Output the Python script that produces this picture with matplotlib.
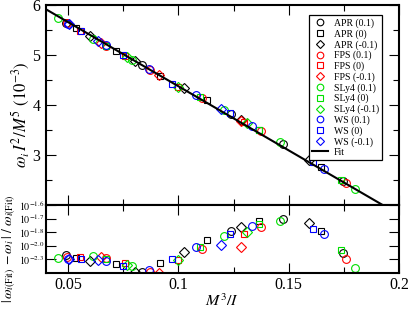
import matplotlib
matplotlib.use("Agg")
import matplotlib.pyplot as plt
from matplotlib.ticker import MultipleLocator, FixedLocator
import numpy as np

plt.rcParams['font.family'] = ['Liberation Serif', 'DejaVu Serif']
plt.rcParams['mathtext.fontset'] = 'stix'

# ---- data ----
fit_coef = [6.94, -25.65]          # intercept, slope of the linear fit
fit_x_range = [0.04, 0.2]

# APR
apr_p1_x = [0.049, 0.0835, 0.1239, 0.1474, 0.1744]
apr_p1_y = [5.645, 4.796, 3.820, 3.222, 2.485]
apr_p1_r = [0.0066, 0.0005, 0.0155, 0.0198, 0.0072]
apr_0_x = [0.0536, 0.0718, 0.0915, 0.113, 0.1365, 0.1645]
apr_0_y = [5.535, 5.081, 4.576, 4.091, 3.505, 2.763]
apr_0_r = [0.0054, 0.0033, 0.0038, 0.0121, 0.0191, 0.0155]
apr_m1_x = [0.06, 0.0805, 0.1024, 0.1285, 0.1592]
apr_m1_y = [5.377, 4.873, 4.347, 3.706, 2.909]
apr_m1_r = [0.0044, 0.0005, 0.0078, 0.017, 0.0183]
# FPS
fps_p1_x = [0.0495, 0.0673, 0.0873, 0.1105, 0.1373, 0.1762]
fps_p1_y = [5.636, 5.185, 4.700, 4.142, 3.476, 2.433]
fps_p1_r = [0.006, 0.0056, 0.0002, 0.0087, 0.017, 0.0052]
fps_0_x = [0.0555, 0.0759, 0.1, 0.1297]
fps_0_y = [5.483, 4.974, 4.354, 3.664]
fps_0_r = [0.006, 0.0038, 0.0048, 0.0142]
fps_m1_x = [0.065, 0.0914, 0.1286]
fps_m1_y = [5.241, 4.596, 3.676]
fps_m1_r = [0.006, 0.0001, 0.0097]
# SLy4
sly_p1_x = [0.0456, 0.0615, 0.079, 0.1209, 0.146, 0.18]
sly_p1_y = [5.739, 5.329, 4.901, 3.892, 3.256, 2.327]
sly_p1_r = [0.0054, 0.0063, 0.0026, 0.0137, 0.0191, 0.0017]
sly_0_x = [0.0673, 0.11, 0.1365, 0.1736]
sly_0_y = [5.188, 4.159, 3.501, 2.508]
sly_0_r = [0.005, 0.0097, 0.018, 0.0085]
sly_m1_x = [0.0765, 0.1, 0.131]
sly_m1_y = [4.963, 4.354, 3.634]
sly_m1_r = [0.003, 0.0048, 0.0152]
# WS
ws_p1_x = [0.0501, 0.0673, 0.0865, 0.1082, 0.1335, 0.1658]
ws_p1_y = [5.626, 5.191, 4.716, 4.205, 3.577, 2.726]
ws_p1_r = [0.0052, 0.0045, 0.0011, 0.0095, 0.0174, 0.0144]
ws_0_x = [0.0558, 0.0749, 0.097, 0.1233, 0.1608]
ws_0_y = [5.481, 5.006, 4.430, 3.831, 2.862]
ws_0_r = [0.005, 0.0026, 0.005, 0.0142, 0.0162]
ws_m1_x = [0.0505, 0.0635, 0.1195]
ws_m1_y = [5.617, 5.286, 3.915]
ws_m1_r = [0.005, 0.0048, 0.0103]

series = [
    ("APR (0.1)", apr_p1_x, apr_p1_y, apr_p1_r, 'black', 'o'),
    ("APR (0)", apr_0_x, apr_0_y, apr_0_r, 'black', 's'),
    ("APR (-0.1)", apr_m1_x, apr_m1_y, apr_m1_r, 'black', 'D'),
    ("FPS (0.1)", fps_p1_x, fps_p1_y, fps_p1_r, 'red', 'o'),
    ("FPS (0)", fps_0_x, fps_0_y, fps_0_r, 'red', 's'),
    ("FPS (-0.1)", fps_m1_x, fps_m1_y, fps_m1_r, 'red', 'D'),
    ("SLy4 (0.1)", sly_p1_x, sly_p1_y, sly_p1_r, '#00e000', 'o'),
    ("SLy4 (0)", sly_0_x, sly_0_y, sly_0_r, '#00e000', 's'),
    ("SLy4 (-0.1)", sly_m1_x, sly_m1_y, sly_m1_r, '#00e000', 'D'),
    ("WS (0.1)", ws_p1_x, ws_p1_y, ws_p1_r, 'blue', 'o'),
    ("WS (0)", ws_0_x, ws_0_y, ws_0_r, 'blue', 's'),
    ("WS (-0.1)", ws_m1_x, ws_m1_y, ws_m1_r, 'blue', 'D'),
]

x_ticks = [0.05, 0.1, 0.15, 0.2]
x_ticklabels = ["0.05", "0.1", "0.15", "0.2"]
top_yticks = [3, 4, 5, 6]
res_yticks = [0.005, 0.01, 0.015, 0.02, 0.025]
res_yticklabels = [r"$10^{-2.3}$", r"$10^{-2.0}$", r"$10^{-1.8}$", r"$10^{-1.7}$", r"$10^{-1.6}$"]

msize = {'o': 5.6, 's': 5.0, 'D': 4.6}

fig = plt.figure(figsize=(4.09, 3.09), dpi=100)
ax1 = fig.add_axes([46/409, 1-205/309, 353/409, 200/309])
ax2 = fig.add_axes([46/409, 1-273/309, 353/409, 68/309], sharex=ax1)

for lab, xs, ys, rs, c, m in series:
    ax1.plot(xs, ys, linestyle='none', marker=m, mfc='none', mec=c,
             ms=msize[m], mew=0.8, label=lab)
    ax2.plot(xs, rs, linestyle='none', marker=m, mfc='none', mec=c,
             ms=msize[m], mew=0.8)

fx = np.array(fit_x_range)
ax1.plot(fx, fit_coef[0] + fit_coef[1]*fx, color='black', lw=1.5, label='Fit')

ax1.set_xlim(0.04, 0.2)
ax1.set_ylim(2, 6)
ax2.set_ylim(0, 0.025)

for ax in (ax1, ax2):
    for s in ax.spines.values():
        s.set_linewidth(1.5)
    ax.tick_params(which='both', direction='in', top=True, right=True, width=0.8,
                   labelsize=11.5, pad=4)
    ax.tick_params(which='major', length=7)
    ax.tick_params(which='minor', length=4)

ax1.xaxis.set_major_locator(FixedLocator(x_ticks))
ax1.xaxis.set_minor_locator(MultipleLocator(0.025))
ax1.set_yticks(top_yticks)
ax1.yaxis.set_minor_locator(MultipleLocator(0.5))
ax1.tick_params(axis='x', labelbottom=False)

ax2.set_xticks(x_ticks)
ax2.set_xticklabels(x_ticklabels)
ax2.tick_params(axis='x', pad=3)
ax2.set_yticks(res_yticks)
ax2.set_yticklabels(res_yticklabels, fontsize=7.2)
ax2.tick_params(axis='y', pad=1)

ax1.set_ylabel(r"$\omega_{i}\, I^2/M^5\ (10^{-3})$", fontsize=12)
ax1.yaxis.set_label_coords(-0.04, 0.45)
ax2.set_ylabel(r"$|\,\omega_{i(\mathrm{Fit})}\,-\omega_{i}\,|\ /\ \omega_{i(\mathrm{Fit})}$", fontsize=10)
ax2.yaxis.set_label_coords(-0.078, 0.36)
ax2.set_xlabel(r"$M^3/I$", fontsize=11.5, labelpad=0)

leg = ax1.legend(loc='upper right', bbox_to_anchor=(0.952, 0.95), fontsize=7,
                 frameon=True, fancybox=False, edgecolor='black', framealpha=1,
                 handlelength=1.6, handletextpad=0.6, labelspacing=0.12,
                 borderpad=0.35, borderaxespad=0, markerscale=0.85)
leg.get_frame().set_linewidth(0.9)

fig.savefig("out.png", dpi=100)
